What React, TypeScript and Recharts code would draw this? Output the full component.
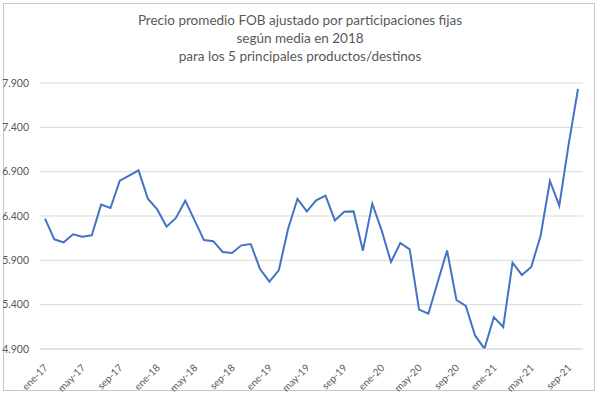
import React from "react";
import { LineChart, Line, XAxis, YAxis, CartesianGrid } from "recharts";

const months: string[] = [
  "ene-17","feb-17","mar-17","abr-17","may-17","jun-17","jul-17","ago-17","sep-17","oct-17","nov-17","dic-17",
  "ene-18","feb-18","mar-18","abr-18","may-18","jun-18","jul-18","ago-18","sep-18","oct-18","nov-18","dic-18",
  "ene-19","feb-19","mar-19","abr-19","may-19","jun-19","jul-19","ago-19","sep-19","oct-19","nov-19","dic-19",
  "ene-20","feb-20","mar-20","abr-20","may-20","jun-20","jul-20","ago-20","sep-20","oct-20","nov-20","dic-20",
  "ene-21","feb-21","mar-21","abr-21","may-21","jun-21","jul-21","ago-21","sep-21","oct-21",
];

const precios: number[] = [
  6370, 6137, 6103, 6193, 6167, 6182, 6528, 6490, 6798, 6855, 6915, 6595,
  6474, 6280, 6378, 6573, 6350, 6128, 6116, 5994, 5983, 6069, 6084, 5802,
  5659, 5787, 6257, 6594, 6452, 6576, 6630, 6350, 6448, 6452, 6009, 6539,
  6238, 5881, 6095, 6024, 5344, 5298, 5655, 6011, 5453, 5385, 5050, 4904,
  5260, 5148, 5874, 5735, 5825, 6178, 6795, 6516, 7208, 7832,
];

const yTicks: number[] = [4900, 5400, 5900, 6400, 6900, 7400, 7900];

const titleLines: string[] = [
  "Precio promedio FOB ajustado por participaciones fijas",
  "según media en 2018",
  "para los 5 principales productos/destinos",
];

const data = months.map((m, i) => ({ mes: m, valor: precios[i] }));

const FONT = "Lato, 'Open Sans', sans-serif";
const GRAY = "#595959";

const fmt = (v: number) => v.toLocaleString("de-DE");

const XTick = (props: any) => {
  const { x, y, payload } = props;
  return (
    <g transform={`translate(${x + 1},${y + 9})`}>
      <text
        x={0}
        y={0}
        dy="0.35em"
        textAnchor="end"
        transform="rotate(-45)"
        fontSize={10}
        fontFamily={FONT}
        fill={GRAY}
      >
        {payload.value}
      </text>
    </g>
  );
};

export default function App() {
  return (
    <div style={{ position: "fixed", left: 0, top: 0, width: 600, height: 395, background: "#fff", overflow: "hidden" }}>
      <div style={{ position: "absolute", left: 3, top: 3, width: 592, height: 388, border: "1px solid #c8c8c8", boxSizing: "border-box" }} />
      <div style={{ position: "absolute", left: 0, top: 11, width: 600, textAlign: "center", fontFamily: FONT, fontSize: 13.5, lineHeight: "18px", color: GRAY }}>
        {titleLines.map((t) => (
          <div key={t}>{t}</div>
        ))}
      </div>
      <div style={{ position: "absolute", left: 0, top: 0 }}>
        <LineChart width={600} height={395} data={data} margin={{ top: 83, right: 17, bottom: 6, left: 0 }}>
          <CartesianGrid vertical={false} stroke="#d9d9d9" strokeWidth={1} />
          <XAxis
            dataKey="mes"
            interval={3}
            tick={<XTick />}
            tickLine={false}
            axisLine={{ stroke: "#d9d9d9" }}
            padding={{ left: 5, right: 5 }}
            height={40}
          />
          <YAxis
            domain={[4900, 7900]}
            ticks={yTicks}
            tickFormatter={fmt}
            tickLine={false}
            axisLine={false}
            width={40}
            tickMargin={5}
            tick={{ fontSize: 10.5, fill: GRAY, fontFamily: FONT }}
            allowDataOverflow
          />
          <Line
            type="linear"
            dataKey="valor"
            stroke="#4472C4"
            strokeWidth={2}
            dot={false}
            isAnimationActive={false}
          />
        </LineChart>
      </div>
    </div>
  );
}
